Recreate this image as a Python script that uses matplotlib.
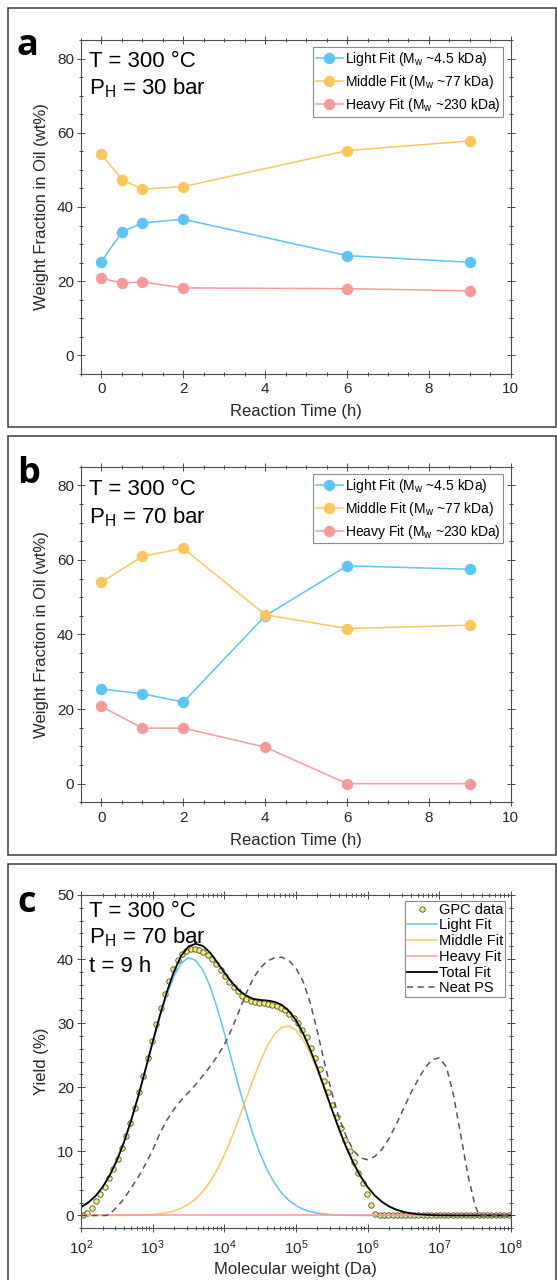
import numpy as np
import matplotlib
matplotlib.use('Agg')
import matplotlib.pyplot as plt
from matplotlib.patches import Rectangle
from matplotlib.ticker import MultipleLocator, LogLocator, NullFormatter, FixedLocator

plt.rcParams['font.family'] = ['Liberation Sans', 'DejaVu Sans']
plt.rcParams['mathtext.fontset'] = 'custom'
plt.rcParams['mathtext.rm'] = 'Liberation Sans'
plt.rcParams['mathtext.it'] = 'Liberation Sans:italic'
plt.rcParams['mathtext.bf'] = 'Liberation Sans:bold'

# --- panel a : 300 C, 30 bar H2 ---
t_a = [0, 0.5, 1, 2, 6, 9]
light_a = [25.3, 33.3, 35.7, 36.7, 26.9, 25.1]
middle_a = [54.2, 47.4, 44.8, 45.5, 55.2, 57.8]
heavy_a = [20.8, 19.5, 19.8, 18.2, 18.0, 17.4]

# --- panel b : 300 C, 70 bar H2 ---
t_b = [0, 1, 2, 4, 6, 9]
light_b = [25.4, 24.1, 21.9, 45.0, 58.4, 57.5]
middle_b = [54.0, 61.0, 63.1, 45.3, 41.6, 42.5]
heavy_b = [20.7, 14.9, 14.9, 9.8, 0.0, 0.0]

fit_labels = ['Light Fit (M$_{\\rm w}$ ~4.5 kDa)',
              'Middle Fit (M$_{\\rm w}$ ~77 kDa)',
              'Heavy Fit (M$_{\\rm w}$ ~230 kDa)']

# --- panel c : GPC trace after 9 h at 70 bar (log10 of Mw in Da) ---
logm_gpc = [2.03, 2.09, 2.15, 2.21, 2.27, 2.33, 2.39, 2.45, 2.51, 2.57,
            2.63, 2.69, 2.75, 2.81, 2.87, 2.93, 2.99, 3.05, 3.11, 3.17,
            3.23, 3.29, 3.35, 3.41, 3.47, 3.53, 3.59, 3.65, 3.71, 3.77,
            3.83, 3.89, 3.95, 4.01, 4.07, 4.13, 4.19, 4.25, 4.31, 4.37,
            4.43, 4.49, 4.55, 4.61, 4.67, 4.73, 4.79, 4.85, 4.91, 4.97,
            5.03, 5.09, 5.15, 5.21, 5.27, 5.33, 5.39, 5.45, 5.51, 5.57,
            5.63, 5.69, 5.75, 5.81, 5.87, 5.93, 5.99, 6.05, 6.11, 6.17,
            6.23, 6.29, 6.35, 6.41, 6.47, 6.53, 6.59, 6.65, 6.71, 6.77,
            6.83, 6.89, 6.95, 7.01, 7.07, 7.13, 7.19, 7.25, 7.31, 7.37,
            7.43, 7.49, 7.55, 7.61, 7.67, 7.73, 7.79, 7.85, 7.91, 7.97]
yield_gpc = [0.0, 0.4, 1.2, 2.2, 3.3, 4.5, 5.8, 7.2, 8.8, 10.5,
             12.4, 14.5, 16.8, 19.2, 21.8, 24.5, 27.2, 29.9, 32.4, 34.6,
             36.6, 38.4, 39.8, 40.8, 41.3, 41.5, 41.5, 41.4, 41.1, 40.6,
             40.0, 39.2, 38.3, 37.4, 36.5, 35.7, 35.0, 34.2, 33.8, 33.5,
             33.3, 33.2, 33.1, 33.0, 32.9, 32.7, 32.4, 32.0, 31.5, 30.8,
             30.0, 29.0, 27.8, 26.2, 24.5, 22.8, 21.0, 19.2, 17.3, 15.4,
             13.6, 11.8, 10.1, 8.4, 6.7, 5.0, 3.3, 1.7, 0.3, 0.0,
             0.0, 0.0, 0.0, 0.0, 0.0, 0.0, 0.0, 0.0, 0.0, 0.0,
             0.0, 0.0, 0.0, 0.0, 0.0, 0.0, 0.0, 0.0, 0.0, 0.0,
             0.0, 0.0, 0.0, 0.0, 0.0, 0.0, 0.0, 0.0, 0.0, 0.0]

logm_fit = [2.0, 2.1, 2.2, 2.3, 2.4, 2.5, 2.6, 2.7, 2.8, 2.9,
            3.0, 3.1, 3.2, 3.3, 3.4, 3.5, 3.6, 3.7, 3.8, 3.9,
            4.0, 4.1, 4.2, 4.3, 4.4, 4.5, 4.6, 4.7, 4.8, 4.9,
            5.0, 5.1, 5.2, 5.3, 5.4, 5.5, 5.6, 5.7, 5.8, 5.9,
            6.0, 6.1, 6.2, 6.3, 6.4, 6.5, 6.6, 6.7, 6.8, 6.9,
            7.0, 7.1, 7.2, 8.0]
light_fit = [1.30, 2.01, 3.01, 4.40, 6.23, 8.57, 11.42, 14.8, 18.6, 22.7,
             26.9, 30.9, 34.5, 37.4, 39.4, 40.2, 39.8, 38.3, 35.8, 32.4,
             28.5, 24.4, 20.2, 16.3, 12.7, 9.65, 7.10, 5.07, 3.52, 2.37,
             1.55, 0.98, 0.61, 0.36, 0.21, 0.12, 0.06, 0.03, 0.02, 0.01,
             0.0, 0.0, 0.0, 0.0, 0.0, 0.0, 0.0, 0.0, 0.0, 0.0,
             0.0, 0.0, 0.0, 0.0]
middle_fit = [0.0, 0.0, 0.0, 0.0, 0.01, 0.01, 0.02, 0.03, 0.05, 0.09,
              0.15, 0.26, 0.44, 0.72, 1.14, 1.75, 2.60, 3.75, 5.25, 7.13,
              9.41, 12.05, 14.97, 18.05, 21.1, 23.98, 26.43, 28.27, 29.35, 29.57,
              28.92, 27.44, 25.27, 22.59, 19.59, 16.49, 13.48, 10.69, 8.22, 6.14,
              4.45, 3.13, 2.14, 1.42, 0.91, 0.57, 0.34, 0.20, 0.12, 0.06,
              0.03, 0.02, 0.01, 0.0]
total_fit = [1.30, 2.01, 3.01, 4.40, 6.24, 8.58, 11.44, 14.83, 18.65, 22.79,
             27.05, 31.16, 34.94, 38.12, 40.54, 41.95, 42.40, 42.05, 41.05, 39.53,
             37.91, 36.45, 35.17, 34.35, 33.80, 33.63, 33.53, 33.34, 32.87, 31.94,
             30.47, 28.42, 25.88, 22.95, 19.80, 16.61, 13.54, 10.72, 8.24, 6.15,
             4.45, 3.13, 2.14, 1.42, 0.91, 0.57, 0.34, 0.20, 0.12, 0.06,
             0.03, 0.02, 0.01, 0.0]
logm_heavy = [2.0, 8.0]
heavy_fit = [0.0, 0.0]

logm_neat = [2.0, 2.35, 2.4, 2.5, 2.6, 2.7, 2.8, 2.9, 3.0, 3.1,
             3.2, 3.3, 3.4, 3.5, 3.6, 3.7, 3.8, 3.9, 4.0, 4.1,
             4.2, 4.3, 4.4, 4.5, 4.6, 4.7, 4.8, 4.9, 5.0, 5.1,
             5.2, 5.3, 5.4, 5.5, 5.6, 5.7, 5.8, 5.9, 6.0, 6.1,
             6.2, 6.3, 6.4, 6.5, 6.6, 6.7, 6.8, 6.9, 7.0, 7.1,
             7.2, 7.3, 7.4, 7.5, 7.56, 8.0]
neat_ps = [0.0, 0.0, 0.2, 1.3, 2.6, 4.3, 6.0, 8.0, 10.2, 12.8,
           14.9, 16.6, 18.0, 19.2, 20.4, 21.8, 23.2, 24.8, 26.6, 29.0,
           31.7, 34.5, 36.9, 38.6, 39.7, 40.2, 40.3, 39.8, 38.6, 36.5,
           33.2, 28.7, 23.8, 19.2, 15.3, 12.4, 10.2, 9.0, 8.7, 9.2,
           10.3, 12.0, 14.2, 16.6, 19.0, 21.1, 23.0, 24.3, 24.6, 23.2,
           18.8, 12.6, 6.4, 1.6, 0.0, 0.0]

decades = [1e2, 1e3, 1e4, 1e5, 1e6, 1e7, 1e8]

c_light = '#5bc5f5'
c_mid = '#fdc65c'
c_heavy = '#f89a9a'
ax_col = '#4a4a4a'
txt_col = '#262626'

W, H = 557, 1280
fig = plt.figure(figsize=(W / 100, H / 100), dpi=100)


def add_ax(l, t, r, b):
    return fig.add_axes([l / W, 1 - b / H, (r - l) / W, (b - t) / H])


def style(ax):
    for s in ax.spines.values():
        s.set_color(ax_col)
        s.set_linewidth(0.8)
    ax.tick_params(which='both', direction='inout', top=True, right=True,
                   color=ax_col, labelcolor=txt_col, labelsize=11, width=0.7)
    ax.tick_params(which='major', length=6)
    ax.tick_params(which='minor', length=3.2)
    ax.tick_params(axis='x', pad=3)
    ax.tick_params(axis='y', pad=2)


def time_panel(ax, t, light, middle, heavy, note):
    for y, c, lab in zip([light, middle, heavy], [c_light, c_mid, c_heavy], fit_labels):
        ax.plot(t, y, '-o', color=c, lw=1.1, ms=7.2, mec=c, label=lab)
    ax.set_xlim(-0.5, 10)
    ax.set_ylim(-5, 85)
    ax.xaxis.set_major_locator(MultipleLocator(2))
    ax.xaxis.set_minor_locator(MultipleLocator(0.5))
    ax.yaxis.set_major_locator(MultipleLocator(20))
    ax.yaxis.set_minor_locator(MultipleLocator(5))
    style(ax)
    ax.set_xlabel('Reaction Time (h)', fontsize=12, color=txt_col)
    ax.set_ylabel('Weight Fraction in Oil (wt%)', fontsize=12, color=txt_col)
    ax.xaxis.set_label_coords(0.5, -0.09)
    ax.yaxis.set_label_coords(-0.074, 0.5)
    leg = ax.legend(loc='upper right', bbox_to_anchor=(0.9826, 0.978), borderaxespad=0,
                    fontsize=10, frameon=True, fancybox=False, framealpha=1,
                    edgecolor='#8a8a8a', handlelength=1.95, handletextpad=0.15,
                    borderpad=0.2, labelspacing=0.35, numpoints=1, markerscale=1.0)
    leg.get_frame().set_linewidth(0.8)
    ax.text(0.019, note[0], 'T = 300 °C', transform=ax.transAxes, fontsize=16, va='baseline')
    ax.text(0.019, note[1], note[2], transform=ax.transAxes, fontsize=16, va='baseline')


ax_a = add_ax(81, 40, 510.8, 374)
time_panel(ax_a, t_a, light_a, middle_a, heavy_a, (0.918, 0.838, 'P$_{\\rm H}$ = 30 bar'))

ax_b = add_ax(81, 466.7, 510.8, 802.3)
time_panel(ax_b, t_b, light_b, middle_b, heavy_b, (0.9157, 0.831, 'P$_{\\rm H}$ = 70 bar'))

# molecular weight distribution
ax_c = add_ax(81, 895, 510.8, 1228.3)
m = lambda v: 10 ** np.array(v)
ax_c.plot(m(logm_gpc), yield_gpc, 'o', ms=3.9, mfc='#f2ed7f', mec='#4f4f26', mew=0.6,
          label='GPC data')
ax_c.plot(m(logm_fit), light_fit, color=c_light, lw=1.1, label='Light Fit')
ax_c.plot(m(logm_fit), middle_fit, color=c_mid, lw=1.1, label='Middle Fit')
ax_c.plot(m(logm_heavy), heavy_fit, color=c_heavy, lw=1.1, label='Heavy Fit')
ax_c.plot(m(logm_fit), total_fit, color='black', lw=1.3, label='Total Fit')
ax_c.plot(m(logm_neat), neat_ps, color='#555555', lw=1.1, ls=(0, (4, 3)), label='Neat PS')
ax_c.set_xscale('log')
ax_c.set_xlim(1e2, 1e8)
ax_c.set_ylim(-2, 50)
ax_c.xaxis.set_major_locator(FixedLocator(decades))
ax_c.xaxis.set_minor_locator(LogLocator(base=10, subs=np.arange(2, 10), numticks=100))
ax_c.xaxis.set_minor_formatter(NullFormatter())
ax_c.yaxis.set_major_locator(MultipleLocator(10))
ax_c.yaxis.set_minor_locator(MultipleLocator(2))
style(ax_c)
ax_c.tick_params(axis='x', which='major', pad=4)
ax_c.set_xlabel('Molecular weight (Da)', fontsize=12, color=txt_col)
ax_c.set_ylabel('Yield (%)', fontsize=12, color=txt_col)
ax_c.xaxis.set_label_coords(0.5, -0.102)
ax_c.yaxis.set_label_coords(-0.074, 0.5)
leg = ax_c.legend(loc='upper right', bbox_to_anchor=(0.986, 0.982), borderaxespad=0,
                  fontsize=10.5, frameon=True, fancybox=False, framealpha=1,
                  edgecolor='#8a8a8a', handlelength=2.1, handletextpad=0.1,
                  borderpad=0.12, labelspacing=0.12, numpoints=1)
leg.get_frame().set_linewidth(0.8)
ax_c.text(0.019, 0.935, 'T = 300 °C', transform=ax_c.transAxes, fontsize=16, va='baseline')
ax_c.text(0.019, 0.855, 'P$_{\\rm H}$ = 70 bar', transform=ax_c.transAxes, fontsize=16, va='baseline')
ax_c.text(0.019, 0.770, 't = 9 h', transform=ax_c.transAxes, fontsize=16, va='baseline')

# outer frames and panel letters
for top, bot, letter, base in [(8.5, 427, 'a', 55), (436, 855, 'b', 483.3), (864, 1300, 'c', 911.7)]:
    fig.add_artist(Rectangle((8 / W, 1 - bot / H), (556 - 8) / W, (bot - top) / H,
                             transform=fig.transFigure, fill=False, ec='#3a3a3a', lw=1.1))
    fig.text(17 / W, 1 - base / H, letter, fontsize=26, fontweight='bold',
             family=['Open Sans', 'DejaVu Sans'], va='baseline')

fig.savefig('out.png', dpi=100)
